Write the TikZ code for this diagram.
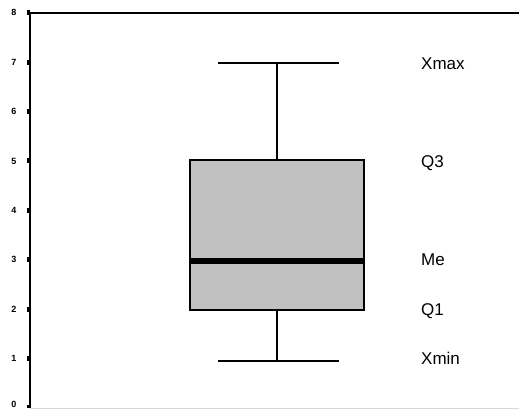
\documentclass[tikz,border=0pt]{standalone}
\usepackage{fontspec}
\setmainfont{Liberation Sans}
\definecolor{boxgray}{HTML}{C0C0C0}
\begin{document}
\begin{tikzpicture}[x=1pt,y=1pt,
  lbl/.style={anchor=base west,inner sep=0pt,font=\fontsize{17}{17}\selectfont},
  ticklbl/.style={anchor=center,inner sep=0pt,font=\fontsize{9}{9}\selectfont\bfseries},
  whisk/.style={line width=1.2pt}]
\useasboundingbox (0,0) rectangle (519,409);
% axes (py -> y = 409 - py)
\draw[line width=1.2pt] (30,1) -- (30,396) -- (519,396);
\draw[line width=0.6pt,black!15] (30,1) -- (519,1);
% ticks
\foreach \v in {1,...,8}{
  \pgfmathsetmacro{\yy}{409-(408-49.4*\v)}
  \fill (27,\yy-2.5) rectangle (30,\yy+2.5);
  \node[ticklbl] (t\v) at (14,\yy) {\v};
}
\fill (27,1) rectangle (30,4);
\node[ticklbl] (t0) at (14,5) {0};
% box
\draw[line width=1.2pt,fill=boxgray] (190,409-310) rectangle (364,409-160);
\draw[line width=6pt] (190.6,409-261) -- (363.4,409-261);
% whiskers
\draw[whisk] (277,409-160) -- (277,409-63);
\draw[whisk] (218,409-63) -- (339,409-63);
\draw[whisk] (277,409-310) -- (277,409-361);
\draw[whisk] (218,409-361) -- (339,409-361);
% labels (baselines)
\node[lbl] (xmax) at (421,409-70) {Xmax};
\node[lbl] (q3) at (421,409-168) {Q3};
\node[lbl] (me) at (421,409-266) {Me};
\node[lbl] (q1) at (421,409-316) {Q1};
\node[lbl] (xmin) at (421,409-365) {Xmin};
\end{tikzpicture}
\end{document}
